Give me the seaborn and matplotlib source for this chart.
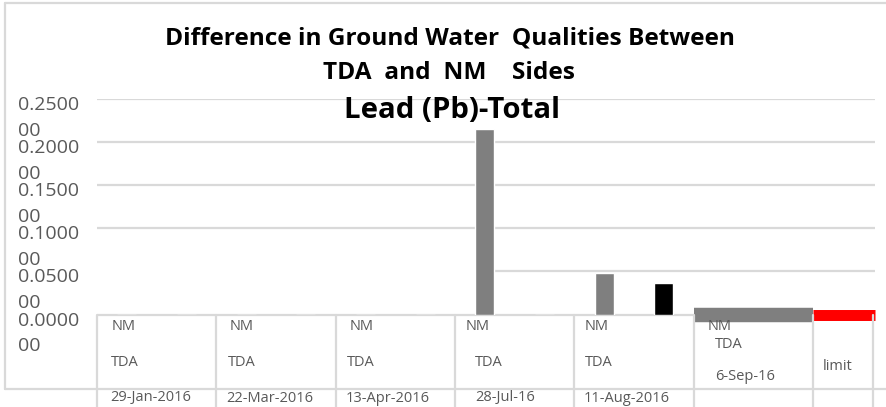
import numpy as np
import pandas as pd
import seaborn as sns
import matplotlib.pyplot as plt
from matplotlib.lines import Line2D
from matplotlib.transforms import blended_transform_factory, offset_copy

sns.set_theme(style="white")
plt.rcParams["font.family"] = ["Open Sans", "DejaVu Sans"]

# Sampling dates (category axis) and the two sides being compared
dates = ["29-Jan-2016", "22-Mar-2016", "13-Apr-2016", "28-Jul-16",
         "11-Aug-2016", "6-Sep-16", "limit"]
sides = ["NM", "TDA"]

# Lead (Pb)-Total differences per date
nm_values = [0.0, 0.0, 0.0, 0.215, 0.048, np.nan, np.nan]
tda_values = [0.0, 0.0, 0.0, 0.0, 0.037, np.nan, np.nan]
sep_level = 0.0      # 6-Sep-16 level
limit_level = 0.0    # limit level

y_ticks = [0.00, 0.05, 0.10, 0.15, 0.20, 0.25]
y_tick_labels = ["0.0000\n00", "0.0500\n00", "0.1000\n00",
                 "0.1500\n00", "0.2000\n00", "0.2500\n00"]

# Category table text
row_top = ["NM", "NM", "NM", "NM", "NM", "NM", ""]
row_mid = ["TDA", "TDA", "TDA", "TDA", "TDA", "TDA", "limit"]
row_date = ["29-Jan-2016", "22-Mar-2016", "13-Apr-2016", "28-Jul-16",
            "11-Aug-2016", "", ""]
sep_date_label = "6-Sep-16"

title_lines = ["Difference in Ground Water  Qualities Between",
               "TDA  and  NM    Sides"]
subtitle = "Lead (Pb)-Total"

df = pd.DataFrame({
    "date": dates * 2,
    "side": ["NM"] * len(dates) + ["TDA"] * len(dates),
    "value": nm_values + tda_values,
})

W, H = 887, 407
fig = plt.figure(figsize=(W / 100, H / 100), dpi=100)
fig.patch.set_facecolor("white")


def fx(px):
    return px / W


def fy(py):
    return (H - py) / H


grid_c = "#d9d9d9"
text_c = "#595959"
grey = "#7f7f7f"

ax_left, ax_right, ax_top, ax_bottom = 97, 875, 99, 314.5
ax = fig.add_axes([fx(ax_left), fy(ax_bottom), fx(ax_right - ax_left),
                   (ax_bottom - ax_top) / H])
ax.patch.set_alpha(0)

sns.barplot(data=df, x="date", y="value", hue="side", order=dates,
            hue_order=sides, palette={"NM": grey, "TDA": "#000000"},
            width=1.0, gap=0.68, saturation=1, errorbar=None,
            legend=False, ax=ax, zorder=3)

ax.set_xlim(-0.5, 6.02)
ax.set_ylim(0, 0.25)
ax.set_xticks([])
ax.set_yticks([])
ax.set_xlabel("")
ax.set_ylabel("")
for s in ax.spines.values():
    s.set_visible(False)

# horizontal gridlines; the 0.05 line starts after the 28-Jul bar
grid_start = {0.05: 3 - 0.25 + 0.08}
for v in y_ticks[1:]:
    ax.hlines(v, grid_start.get(v, -0.5), 6.02, color=grid_c, lw=1.6,
              zorder=1)

# table top line along zero
ax.hlines(0, -0.5, 6.0, color=grid_c, lw=1.6, zorder=2, clip_on=False)

# thick level bands for 6-Sep-16 and the limit
ax.plot([4.5, 5.5], [sep_level, sep_level], color=grey, lw=10.4,
        solid_capstyle="butt", clip_on=False, zorder=6)
ax.plot([5.5, 6.02], [limit_level, limit_level], color="#ff0000", lw=7.9,
        solid_capstyle="butt", clip_on=False, zorder=6)

# category table
tx = blended_transform_factory(ax.transData, fig.transFigure)
bounds = [-0.5, 0.5, 1.5, 2.5, 3.5, 4.5, 5.5, 6.0]
for b in bounds:
    fig.add_artist(Line2D([b, b], [fy(ax_bottom), 0], transform=tx,
                          color=grid_c, lw=1.6, zorder=1))

# outer chart border
for xs, ys in [([5, W + 2], [3, 3]), ([5.5, 5.5], [3, 389]),
               ([5, W + 2], [389, 389])]:
    fig.add_artist(Line2D([fx(x) for x in xs], [fy(y) for y in ys],
                          transform=fig.transFigure, color=grid_c, lw=1.6,
                          zorder=1))

lab_kw = dict(transform=tx, color=text_c, fontsize=10.5, ha="left",
              va="center", zorder=5)
indent_top = [0.12, 0.11, 0.12, 0.09, 0.09, 0.12, 0.0]
indent_mid = [0.12, 0.10, 0.09, 0.17, 0.09, 0.18, 0.08]
indent_date = [0.11, 0.08, 0.08, 0.17, 0.08, 0.0, 0.0]
for i, d in enumerate(dates):
    left = i - 0.5
    if row_top[i]:
        fig.text(left + indent_top[i], fy(326), row_top[i], **lab_kw)
    mid_y = 344 if d == "6-Sep-16" else (367 if d == "limit" else 362)
    fig.text(left + indent_mid[i], fy(mid_y), row_mid[i], **lab_kw)
    if row_date[i]:
        fig.text(left + indent_date[i], fy(398), row_date[i], **lab_kw)
fig.text(dates.index("6-Sep-16") - 0.5 + 0.18, fy(377), sep_date_label,
         **lab_kw)

# y tick labels (wrapped values)
ty = offset_copy(blended_transform_factory(fig.transFigure, ax.transData),
                 fig=fig, y=3, units="dots")
for v, lab in zip(y_ticks, y_tick_labels):
    fig.text(fx(18), v, lab, transform=ty, color=text_c, fontsize=14,
             ha="left", va="top", linespacing=1.55, multialignment="left")

# titles
fig.text(fx(450), fy(38), title_lines[0], fontsize=17.6, fontweight="bold",
         ha="center", va="center", color="black")
fig.text(fx(449), fy(73), title_lines[1], fontsize=17.6, fontweight="bold",
         ha="center", va="center", color="black")
fig.text(fx(452), fy(111), subtitle, fontsize=21.2, fontweight="bold",
         ha="center", va="center", color="black", zorder=7)

fig.savefig("out.png", dpi=100)
